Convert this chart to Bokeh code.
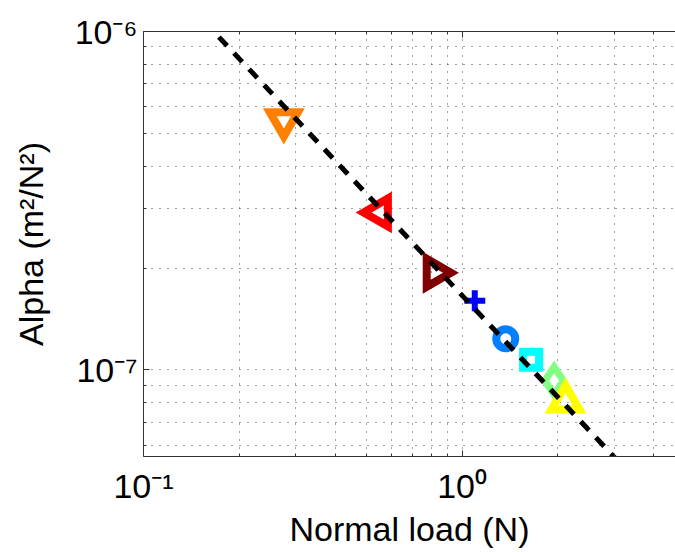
import math
from bokeh.plotting import figure
from bokeh.models import LogAxis, FixedTicker, CustomJSTickFormatter, Range1d, ColumnDataSource
from bokeh.embed import file_html
from bokeh.resources import INLINE

# ---- data ----
load = [0.2757, 0.5517, 0.821, 1.096, 1.371, 1.6465, 1.945, 2.111]
alpha = [5.46e-7, 2.92e-7, 1.937e-7, 1.601e-7, 1.236e-7, 1.072e-7, 9.29e-8, 8.07e-8]
marker_types = ["inverted_triangle", "triangle", "triangle", "cross",
                "circle", "square", "diamond", "triangle"]
marker_colors = ["#ff8000", "#ff0000", "#7f0000", "#0000ff",
                 "#0080ff", "#00ffff", "#80ff80", "#ffff00"]

# power-law fit: alpha = fit_coeff * load ** fit_exponent
fit_coeff = 1.66e-7
fit_exponent = -1.0
fit_load = [0.1, 5.0]

x_major = [0.1, 1.0]
y_major = [1e-7, 1e-6]
x_minor = [k * 10.0 ** e for e in (-1, 0) for k in range(2, 10)]
y_minor = [k * 10.0 ** e for e in (-8, -7) for k in range(2, 10)]

# ---- styles ----
marker_angles = [0, math.pi / 2, -math.pi / 2, 0, 0, 0, 0, 0]
marker_sizes = [28, 28, 28, 21, 19, 16, 28, 28]
marker_widths = [8, 8, 8, 6, 8, 8, 7, 8]

FONT = "Liberation Sans"
AX = "#333333"

p = figure(width=675, height=552, x_axis_type="log", y_axis_type="log",
           x_range=Range1d(0.1, 4.676), y_range=Range1d(5.55e-8, 1e-6),
           output_backend="svg", toolbar_location=None,
           min_border_left=143, min_border_top=31, min_border_bottom=96,
           min_border_right=0)
p.outline_line_color = None
p.background_fill_color = "white"
p.border_fill_color = "white"

bottom = p.below[0]
left = p.left[0]

src = ColumnDataSource(dict(x=load, y=alpha, m=marker_types, c=marker_colors,
                            a=marker_angles, s=marker_sizes, w=marker_widths))
p.scatter("x", "y", source=src, marker="m", size="s", angle="a",
          line_color="c", line_width="w", fill_color=None, line_join="miter")

fit_alpha = [fit_coeff * f ** fit_exponent for f in fit_load]
p.line(fit_load, fit_alpha, line_color="black", line_width=5, line_dash="12 10")

fmt_code = """
const sup = {"-": "\u207b", "0": "\u2070", "1": "\u00b9", "2": "\u00b2", "3": "\u00b3",
             "4": "\u2074", "5": "\u2075", "6": "\u2076", "7": "\u2077", "8": "\u2078", "9": "\u2079"};
const e = Math.round(Math.log10(tick));
return "10" + String(e).split("").map(c => sup[c]).join("");
"""

xt = FixedTicker(ticks=x_major, minor_ticks=x_minor)
yt = FixedTicker(ticks=y_major, minor_ticks=y_minor)

top = LogAxis(ticker=xt, formatter=CustomJSTickFormatter(code="return ' ';"),
              major_label_text_font_size="4px", major_label_standoff=0)
p.add_layout(top, "above")

bottom.ticker = xt
left.ticker = yt
bottom.formatter = CustomJSTickFormatter(code=fmt_code)
left.formatter = CustomJSTickFormatter(code=fmt_code)

for ax in [bottom, left, top]:
    ax.major_tick_in = 6
    ax.major_tick_out = 0
    ax.minor_tick_in = 3
    ax.minor_tick_out = 0
    ax.axis_line_color = AX
    ax.major_tick_line_color = AX
    ax.minor_tick_line_color = AX
    ax.major_label_text_font = FONT
    ax.axis_label_text_font = FONT
    ax.major_label_text_color = "black"
    ax.axis_label_text_color = "black"
    ax.axis_label_text_font_style = "normal"

for ax in [bottom, left]:
    ax.major_label_text_font_size = "34px"
    ax.axis_label_text_font_size = "34px"

bottom.axis_label = "Normal load (N)"
left.axis_label = "Alpha (m\u00b2/N\u00b2)"
bottom.major_label_standoff = 10
bottom.axis_label_standoff = 2
left.major_label_standoff = 6
left.axis_label_standoff = 22

for g, t in [(p.xgrid[0], xt), (p.ygrid[0], yt)]:
    g.ticker = t
    g.grid_line_color = "#444444"
    g.grid_line_dash = "1 7"
    g.grid_line_width = 1
    g.minor_grid_line_color = "#444444"
    g.minor_grid_line_dash = "1 7"
    g.minor_grid_line_width = 1

open("out.html", "w").write(file_html(p, INLINE))
